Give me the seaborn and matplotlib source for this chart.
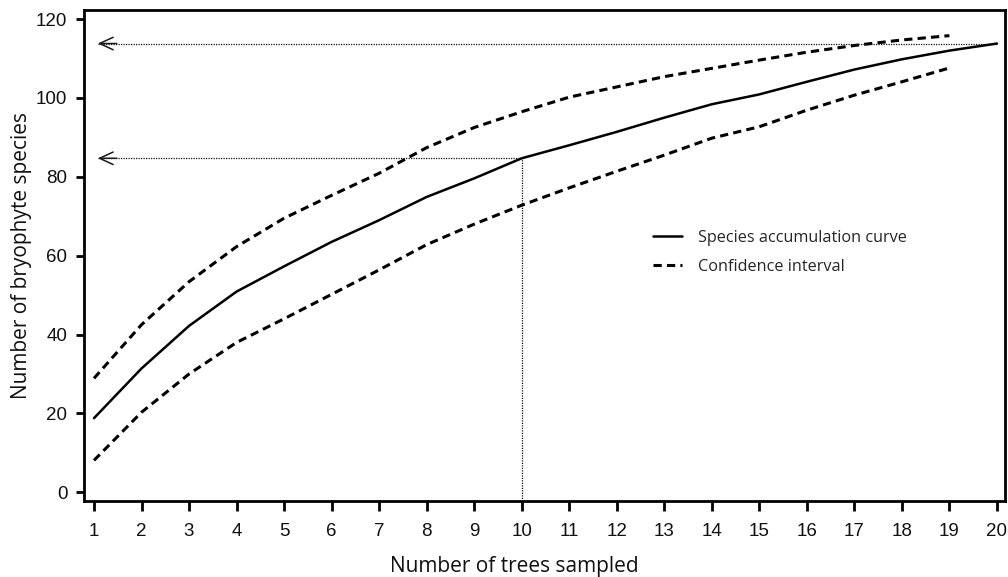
import matplotlib
matplotlib.use("Agg")
import matplotlib.pyplot as plt
from matplotlib import font_manager
from matplotlib.lines import Line2D
import numpy as np
import pandas as pd
import seaborn as sns

# Number of trees sampled
trees = list(range(1, 21))
# Mean species accumulation curve
species_mean = [18.8, 31.4, 42.2, 50.9, 57.3, 63.5, 69.0, 74.9, 79.6, 84.7,
                88.0, 91.4, 95.0, 98.4, 100.9, 104.1, 107.2, 109.8, 112.0, 113.8]
# Confidence limits (defined for 1-19 trees)
ci_trees = list(range(1, 20))
ci_upper = [28.9, 42.5, 53.4, 62.3, 69.5, 75.3, 80.9, 87.4, 92.5, 96.5,
            100.2, 102.8, 105.4, 107.5, 109.6, 111.6, 113.3, 114.7, 115.8]
ci_lower = [8.1, 20.3, 30.0, 38.0, 44.0, 50.2, 56.4, 62.8, 68.0, 72.8,
            77.2, 81.4, 85.5, 89.8, 92.7, 96.9, 100.7, 104.1, 107.6]

y_ticks = [0, 20, 40, 60, 80, 100, 120]
legend_labels = ["Species accumulation curve", "Confidence interval"]
x_label = "Number of trees sampled"
y_label = "Number of bryophyte species"

sns.set_theme(style="white")
installed = {f.name for f in font_manager.fontManager.ttflist}
tick_font = "Liberation Sans Narrow" if "Liberation Sans Narrow" in installed else "Liberation Sans"
label_font = "Open Sans"
plt.rcParams["font.family"] = [label_font, "DejaVu Sans"]

mean_df = pd.DataFrame({"trees": trees, "species": species_mean})
upper_df = pd.DataFrame({"trees": ci_trees, "species": ci_upper})
lower_df = pd.DataFrame({"trees": ci_trees, "species": ci_lower})

fig = plt.figure(figsize=(10.08, 5.77), dpi=100)
ax = fig.add_axes([84 / 1008, 1 - 501 / 577, 921 / 1008, 491 / 577])

dash = (0, (2.7, 1.7))
sns.lineplot(data=mean_df, x="trees", y="species", ax=ax, color="black",
             linewidth=1.8, estimator=None)
sns.lineplot(data=upper_df, x="trees", y="species", ax=ax, color="black",
             linewidth=2.2, linestyle=dash, estimator=None)
sns.lineplot(data=lower_df, x="trees", y="species", ax=ax, color="black",
             linewidth=2.2, linestyle=dash, estimator=None)

y_bottom, y_top = -2.2, 122.3
ax.set_xlim(0.79, 20.17)
ax.set_ylim(y_bottom, y_top)

# Reference guides: total richness and richness at 10 trees
x_ref = 10
y_ref_10 = species_mean[trees.index(x_ref)]
y_total = species_mean[-1]
arrow_tip = 1.08
guide = dict(color="#111111", lw=0.9, linestyle=(0, (1, 1)))
ax.plot([arrow_tip, trees[-1]], [y_total, y_total], **guide)
ax.plot([arrow_tip, x_ref], [y_ref_10, y_ref_10], **guide)
ax.plot([x_ref, x_ref], [y_bottom, y_ref_10], **guide)
head = dict(arrowstyle="->,head_length=0.65,head_width=0.3", color="#1a1a1a",
            lw=1.1, mutation_scale=15, shrinkA=0, shrinkB=0)
for yv in (y_total, y_ref_10):
    ax.annotate("", xy=(arrow_tip, yv), xytext=(arrow_tip + 0.4, yv), arrowprops=head)

ax.set_xticks(trees)
ax.set_xticklabels([str(t) for t in trees], fontfamily=tick_font, fontsize=13.5, color="#111111")
ax.set_yticks(y_ticks)
ax.set_yticklabels([str(v) for v in y_ticks], fontfamily=tick_font, fontsize=13.5, color="#111111")
ax.tick_params(axis="x", direction="out", length=7, width=2, pad=9, bottom=True, color="black")
ax.tick_params(axis="y", direction="out", length=6, width=2, pad=6, left=True, color="black")

for side in ["left", "right", "top", "bottom"]:
    ax.spines[side].set_visible(True)
    ax.spines[side].set_color("black")
    ax.spines[side].set_linewidth(2.0)

ax.set_xlabel(x_label, fontsize=15, color="#111111")
ax.set_ylabel(y_label, fontsize=15, color="#111111")
ax.xaxis.set_label_coords((514 - 84) / 921, -0.112)
ax.yaxis.set_label_coords(-0.057, 0.5)

handles = [Line2D([], [], color="black", lw=1.8),
           Line2D([], [], color="black", lw=2.2, linestyle=dash)]
ax.legend(handles, legend_labels, loc="center left", bbox_to_anchor=(0.618, 0.506),
          frameon=False, fontsize=11.7, handlelength=1.75, handletextpad=1.0,
          labelspacing=0.8, borderpad=0, borderaxespad=0)

fig.savefig("out.png", dpi=100)
